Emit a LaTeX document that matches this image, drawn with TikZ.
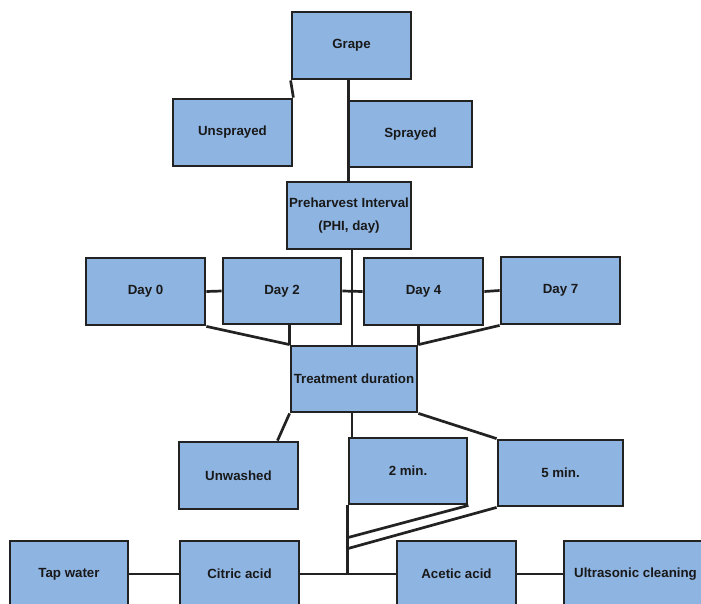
\documentclass[tikz,border=0pt]{standalone}
\usepackage{fontspec}
\setmainfont{Liberation Sans}
\usetikzlibrary{calc}
\definecolor{boxfill}{RGB}{142,180,226}
\definecolor{edgecol}{RGB}{34,34,34}
\begin{document}
\begin{tikzpicture}[x=1pt,y=-1pt,
  box/.style={draw=edgecol, line width=2.8pt, fill=boxfill, inner sep=0pt,
    font=\fontsize{13.3}{23}\selectfont\bfseries, text=black!90, align=center},
  conn/.style={draw=edgecol, line width=2.7pt}]
\useasboundingbox (0,0) rectangle (701,603);
\clip (0,0) rectangle (701,603);
\node[box, minimum width=119, minimum height=67] (grape) at (351.5,45.5) {Grape};
\node[box, minimum width=119, minimum height=67] (unsprayed) at (232.5,132.5) {Unsprayed};
\node[box, minimum width=123, minimum height=66] (sprayed) at (410.5,134) {Sprayed};
\node[box, minimum width=124, minimum height=67] (phi) at (349,215.5) {Preharvest Interval\\(PHI, day)};
\node[box, minimum width=119, minimum height=67] (day0) at (145.5,291.5) {Day 0};
\node[box, minimum width=118, minimum height=66] (day2) at (282,291) {Day 2};
\node[box, minimum width=119, minimum height=67] (day4) at (423.5,291.5) {Day 4};
\node[box, minimum width=119, minimum height=67] (day7) at (560.5,290.5) {Day 7};
\node[box, minimum width=126, minimum height=66] (treat) at (354,379) {Treatment duration};
\node[box, minimum width=119, minimum height=67] (unwashed) at (238.5,475.5) {Unwashed};
\node[box, minimum width=118, minimum height=66] (twomin) at (408,471) {2 min.};
\node[box, minimum width=125, minimum height=66] (fivemin) at (560.5,473) {5 min.};
\node[box, minimum width=118, minimum height=66] (tap) at (69,574) {Tap water};
\node[box, minimum width=119, minimum height=66] (citric) at (239.5,574) {Citric acid};
\node[box, minimum width=119, minimum height=66] (acetic) at (456.5,574) {Acetic acid};
\node[box, minimum width=143, minimum height=66] (ultra) at (635.5,574) {Ultrasonic cleaning};
% connectors
\draw[conn] (grape.south west) -- (unsprayed.north east);
\draw[conn] ($(sprayed.west |- grape.south)+(1,0)$) -- ($(sprayed.west |- phi.north)+(1,0)$);
\draw[conn] ($(phi.south)+(3,0)$) coordinate (p1) -- (p1 |- treat.north);
\draw[conn] (day0.east) -- (day2.west);
\draw[conn] (day2.east) -- (day4.west);
\draw[conn] (day4.east) -- (day7.west);
\draw[conn] (day0.south east) -- (treat.north west);
\draw[conn] (day2.south -| treat.west) -- (treat.north west);
\draw[conn] (day4.south -| treat.east) -- (treat.north east);
\draw[conn] (day7.south west) -- (treat.north east);
\draw[conn] (treat.south west) -- ($(unwashed.north west)!0.82!(unwashed.north east)$);
\draw[conn] ($(treat.south)+(-2,0)$) coordinate (t1) -- (t1 |- twomin.north);
\draw[conn] (treat.south east) -- (fivemin.north west);
\coordinate (j) at (twomin.south west |- citric.east);
\draw[conn] (twomin.south west) -- (j);
\draw[conn] (twomin.south east) -- ($(twomin.south west)!0.47!(j)$);
\draw[conn] (fivemin.south west) -- ($(twomin.south west)!0.63!(j)$);
\draw[conn] (tap.east) -- (citric.west);
\draw[conn] (citric.east) -- (acetic.west);
\draw[conn] (acetic.east) -- (ultra.west);
\end{tikzpicture}
\end{document}
